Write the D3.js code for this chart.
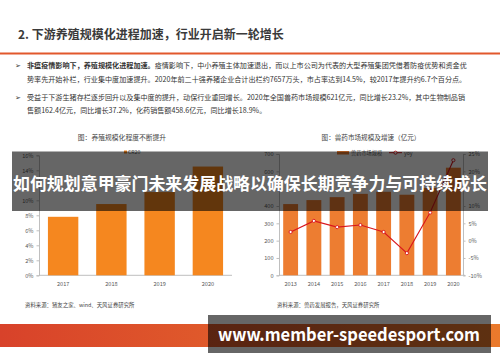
<!DOCTYPE html>
<html><head><meta charset="utf-8">
<script src="https://cdn.jsdelivr.net/npm/d3@7"></script>
<style>body{margin:0;background:#fff}svg{display:block}text{font-family:"Noto Sans CJK SC","Noto Sans",sans-serif}</style>
</head><body><svg id="c" width="500" height="362"></svg>
<script>
const pageTitle = "2. 下游养殖规模化进程加速，行业开启新一轮增长";
const bulletLines = [
  [{t:"非瘟疫情影响下，养殖规模化进程加速。", b:true},{t:"疫情影响下，中小养殖主体加速退出，而以上市公司为代表的大型养殖集团凭借着防疫优势和资金优", b:false}],
  [{t:"势率先开始补栏，行业集中度加速提升。2020年前二十强养猪企业合计出栏约7657万头，市占率达到14.5%，较2017年提升约6.7个百分点。", b:false}],
  [{t:"受益于下游生猪存栏逐步回升以及集中度的提升，动保行业重回增长。2020年全国兽药市场规模621亿元，同比增长23.2%，其中生物制品销", b:false}],
  [{t:"售额162.4亿元，同比增长37.2%，化药销售额458.6亿元，同比增长18.9%。", b:false}]
];
const leftTitle = "图：养殖规模化程度不断提升";
const leftYears = ["2017","2018","2019","2020"];
const cr20 = [7.8, 9.5, 11.1, 14.5];
const leftTicks = [0,2,4,6,8,10,14,16];
const leftSource = "资料来源：猪友之家、wind、天风证券研究所";

const rightTitle = "图：兽药市场规模及增速（亿元）";
const rightYears = ["2013","2014","2015","2016","2017","2018","2019","2020"];
const marketSize = [411, 434, 451, 470, 482, 465, 504, 621];
const yoy = [2.5, 5.7, 3.9, 4.5, 2.5, -3.6, 8.1, 23.2];
const rightTicksL = [0,100,200,300,400,600,700];
const rightTicksR = [-10,-5,0,5,10,20,25];
const rightSource = "资料来源：兽药发展报告，天风证券研究所";

const overlayText = "如何规划意甲豪门未来发展战略以确保长期竞争力与可持续成长";
const footerText = "www.member-speedesport.com";

const svg = d3.select("#c");
svg.append("rect").attr("width",500).attr("height",362).attr("fill","#fff");

// header
svg.append("text").attr("x",18).attr("y",38.5).attr("font-size",12).attr("font-weight","bold").attr("fill","#3a3a3a").text(pageTitle);
svg.append("rect").attr("x",0).attr("y",52.5).attr("width",500).attr("height",2).attr("fill","#e2582c");

// bullets
const lineY = [67.5, 81.5, 99.5, 112.5];
bulletLines.forEach((segs,i)=>{
  if(i===0||i===2){
    svg.append("text").attr("x",15).attr("y",lineY[i]).attr("font-size",7).attr("fill","#333").text("➢");
  }
  const t = svg.append("text").attr("x",27).attr("y",lineY[i]).attr("font-size",7.1).attr("fill","#333");
  segs.forEach(s=>t.append("tspan").attr("font-weight",s.b?"bold":"normal").text(s.t));
});

const axisCol = "#bfbfbf", labCol = "#595959";
function styleAxis(g){
  g.selectAll("path,line").attr("stroke",axisCol);
  g.selectAll("text").attr("fill",labCol).attr("font-size",5.6).attr("font-family","'Liberation Sans',Arial,sans-serif");
}

// left chart
svg.append("text").attr("x",122).attr("y",139.5).attr("text-anchor","middle").attr("font-size",6.8).attr("fill","#444").text(leftTitle);
const lx = d3.scaleBand().domain(leftYears).range([39,232]).paddingInner(0.37).paddingOuter(0.185);
const ly = d3.scaleLinear().domain([0,16]).range([275.3,155.3]);
svg.append("g").attr("transform","translate(39,0)").call(d3.axisLeft(ly).tickValues(leftTicks).tickFormat(d=>d+"%").tickSize(2.5)).call(styleAxis);
const lxAxis = svg.append("g").attr("transform","translate(0,275.3)").call(d3.axisBottom(lx).tickSize(0).tickPadding(7)).call(styleAxis);
lxAxis.select(".domain").attr("d","M39,0H232");
svg.append("g").selectAll("rect").data(leftYears).join("rect")
  .attr("x",d=>lx(d)).attr("width",lx.bandwidth())
  .attr("y",(d,i)=>ly(cr20[i])).attr("height",(d,i)=>ly(0)-ly(cr20[i]))
  .attr("fill","#f5871f");
// legend
svg.append("rect").attr("x",124).attr("y",150.5).attr("width",3).attr("height",3).attr("fill","#f5871f");
svg.append("text").attr("x",128).attr("y",153.7).attr("font-size",5.2).attr("fill",labCol).attr("font-family","'Liberation Sans',Arial,sans-serif").text("CR20");
svg.append("text").attr("x",25).attr("y",307).attr("font-size",5.4).attr("fill","#444").text(leftSource);

// right chart
svg.append("text").attr("x",371).attr("y",139.5).attr("text-anchor","middle").attr("font-size",6.6).attr("fill","#444").text(rightTitle);
const rx = d3.scaleBand().domain(rightYears).range([279,465]).paddingInner(0.36).paddingOuter(0.18);
const ryL = d3.scaleLinear().domain([0,700]).range([275.3,154]);
const ryR = d3.scaleLinear().domain([-10,25]).range([275.3,154]);
svg.append("g").attr("transform","translate(279,0)").call(d3.axisLeft(ryL).tickValues(rightTicksL).tickSize(2.5)).call(styleAxis);
svg.append("g").attr("transform","translate(463,0)").call(d3.axisRight(ryR).tickValues(rightTicksR).tickFormat(d=>d+"%").tickSize(2.5)).call(styleAxis);
const rxAxis = svg.append("g").attr("transform","translate(0,275.3)").call(d3.axisBottom(rx).tickSize(0).tickPadding(7)).call(styleAxis);
rxAxis.select(".domain").attr("d","M279,0H465");
svg.append("g").selectAll("rect").data(rightYears).join("rect")
  .attr("x",d=>rx(d)).attr("width",rx.bandwidth())
  .attr("y",(d,i)=>ryL(marketSize[i])).attr("height",(d,i)=>ryL(0)-ryL(marketSize[i]))
  .attr("fill","#ed7d31");
const line = d3.line().x((d,i)=>rx(rightYears[i])+rx.bandwidth()/2).y(d=>ryR(d));
svg.append("path").datum(yoy).attr("d",line).attr("fill","none").attr("stroke","#d9161c").attr("stroke-width",1.1);
svg.append("g").selectAll("circle").data(yoy).join("circle")
  .attr("cx",(d,i)=>rx(rightYears[i])+rx.bandwidth()/2).attr("cy",d=>ryR(d)).attr("r",1.6)
  .attr("fill","#fff").attr("stroke","#d9161c").attr("stroke-width",0.9);
// legend
svg.append("rect").attr("x",337).attr("y",151).attr("width",12).attr("height",3.5).attr("fill","#ed7d31");
svg.append("text").attr("x",351).attr("y",154.5).attr("font-size",5.2).attr("fill",labCol).text("兽药市场规模");
svg.append("line").attr("x1",389).attr("x2",402).attr("y1",152.7).attr("y2",152.7).attr("stroke","#d9161c").attr("stroke-width",1);
svg.append("circle").attr("cx",395.5).attr("cy",152.7).attr("r",1.6).attr("fill","#fff").attr("stroke","#d9161c").attr("stroke-width",0.9);
svg.append("text").attr("x",404).attr("y",154.5).attr("font-size",5.2).attr("fill",labCol).attr("font-family","'Liberation Sans',Arial,sans-serif").text("yoy");
svg.append("text").attr("x",277).attr("y",307).attr("font-size",5.4).attr("fill","#444").text(rightSource);

// footer band
const grad = svg.append("defs").append("linearGradient").attr("id","fg");
grad.append("stop").attr("offset","0").attr("stop-color","#d8422a");
grad.append("stop").attr("offset","1").attr("stop-color","#ea7a2c");
svg.append("rect").attr("x",0).attr("y",324).attr("width",500).attr("height",23).attr("fill","url(#fg)");

// overlays
svg.append("rect").attr("x",12).attr("y",151.5).attr("width",476).attr("height",59.5).attr("fill","rgba(0,0,0,0.6)");
svg.append("text").attr("x",250).attr("y",189.5).attr("text-anchor","middle").attr("font-size",17).attr("font-weight","bold").attr("fill","#fff")
  .attr("textLength",474).attr("lengthAdjust","spacingAndGlyphs").text(overlayText);
svg.append("rect").attr("x",208).attr("y",315).attr("width",283).attr("height",38).attr("fill","rgba(0,0,0,0.6)");
svg.append("text").attr("x",349).attr("y",341).attr("text-anchor","middle").attr("font-size",18).attr("font-weight","bold").attr("fill","#fff")
  .attr("font-family","'Open Sans','DejaVu Sans',sans-serif")
  .attr("textLength",262).attr("lengthAdjust","spacingAndGlyphs").text(footerText);
</script></body></html>
